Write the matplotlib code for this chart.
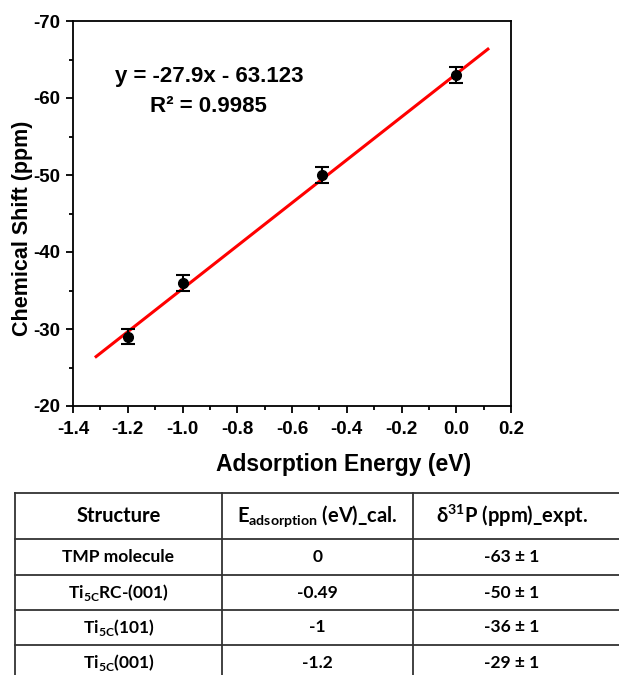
import matplotlib
matplotlib.use("Agg")
import matplotlib.pyplot as plt
from matplotlib.lines import Line2D
from matplotlib.ticker import MultipleLocator
import numpy as np

# Adsorption energy vs. measured 31P chemical shift
energy = [0.0, -0.49, -1.0, -1.2]
shift = [-63, -50, -36, -29]
shift_err = [1, 1, 1, 1]

slope = -27.9
intercept = -63.123
r_squared = 0.9985
fit_range = [-1.32, 0.12]

x_ticks = [-1.4, -1.2, -1.0, -0.8, -0.6, -0.4, -0.2, 0.0, 0.2]
y_ticks = [-70, -60, -50, -40, -30, -20]

# Summary table
table_header = ["Structure", r"E$_\mathregular{adsorption}$ (eV)_cal.",
                r"δ$^\mathregular{31}$P (ppm)_expt."]
structures = ["TMP molecule", r"Ti$_\mathregular{5C}$RC-(001)",
              r"Ti$_\mathregular{5C}$(101)", r"Ti$_\mathregular{5C}$(001)"]
energy_labels = ["0", "-0.49", "-1", "-1.2"]
shift_labels = ["-63 ± 1", "-50 ± 1", "-36 ± 1", "-29 ± 1"]

plt.rcParams["font.family"] = ["Liberation Sans", "DejaVu Sans"]
plt.rcParams["font.weight"] = "bold"

W, H = 619, 675
fig = plt.figure(figsize=(W / 100, H / 100), dpi=100)

ax = fig.add_axes([73 / W, 1 - 406 / H, (511 - 73) / W, (406 - 21) / H])

xs = np.array(fit_range)
ax.plot(xs, slope * xs + intercept, color="#ff0000", lw=2.2, zorder=2,
        solid_capstyle="butt")
ax.errorbar(energy, shift, yerr=shift_err, fmt="o", color="black",
            ms=7, capsize=5, elinewidth=1.5, capthick=1.5, zorder=3)

ax.set_xlim(-1.4, 0.2)
ax.set_ylim(-20, -70)
ax.set_xticks(x_ticks)
ax.set_yticks(y_ticks)
ax.set_xticklabels([f"{v:.1f}" for v in x_ticks])
ax.set_yticklabels([f"{v}" for v in y_ticks])
ax.xaxis.set_minor_locator(MultipleLocator(0.1))
ax.yaxis.set_minor_locator(MultipleLocator(5))
ax.tick_params(which="both", direction="out", width=1.3, labelsize=13.5,
               top=False, right=False)
ax.tick_params(which="major", length=5)
ax.tick_params(which="minor", length=3)
ax.tick_params(axis="x", pad=6)
ax.tick_params(axis="y", pad=4)
for lbl in ax.get_xticklabels() + ax.get_yticklabels():
    lbl.set_fontweight("bold")
for sp in ax.spines.values():
    sp.set_linewidth(1.3)

fig.text(344 / W, 1 - 465 / H, "Adsorption Energy (eV)", fontsize=16.5,
         fontweight="bold", ha="center", va="center")
fig.text(23 / W, 1 - 228 / H, "Chemical Shift (ppm)", fontsize=15.5,
         fontweight="bold", ha="center", va="center", rotation=90)

ax.text(0.31, 0.857, f"y = {slope}x - {abs(intercept)}",
        transform=ax.transAxes, ha="center", va="center", fontsize=16,
        fontweight="bold")
ax.text(0.31, 0.779, f"R² = {r_squared}", transform=ax.transAxes,
        ha="center", va="center", fontsize=16, fontweight="bold")

# Table drawn in pixel coordinates on an overlay
tax = fig.add_axes([0, 0, 1, 1])
tax.set_xlim(0, W)
tax.set_ylim(H, 0)
tax.axis("off")

line_color = "#333333"
lw = 1.3
col_edges = [15, 222, 413, 640]
row_edges = [493, 539, 575, 610, 645, 680]
for x in col_edges:
    tax.add_line(Line2D([x, x], [row_edges[0], row_edges[-1]],
                        color=line_color, lw=lw))
for y in row_edges:
    tax.add_line(Line2D([col_edges[0], col_edges[-1]], [y, y],
                        color=line_color, lw=lw))

tfont = ["Lato", "DejaVu Sans"]
centers = [(col_edges[i] + col_edges[i + 1]) / 2 for i in range(3)]
centers[2] = 512
for c, txt in zip(centers, table_header):
    tax.text(c, (row_edges[0] + row_edges[1]) / 2, txt, ha="center",
             va="center", fontsize=14.5, fontweight="bold", family=tfont)
for r in range(4):
    yc = (row_edges[r + 1] + row_edges[r + 2]) / 2
    for c, txt in zip(centers, [structures[r], energy_labels[r],
                                shift_labels[r]]):
        tax.text(c, yc, txt, ha="center", va="center", fontsize=12.5,
                 fontweight="bold", family=tfont)

fig.savefig("out.png", dpi=100)
